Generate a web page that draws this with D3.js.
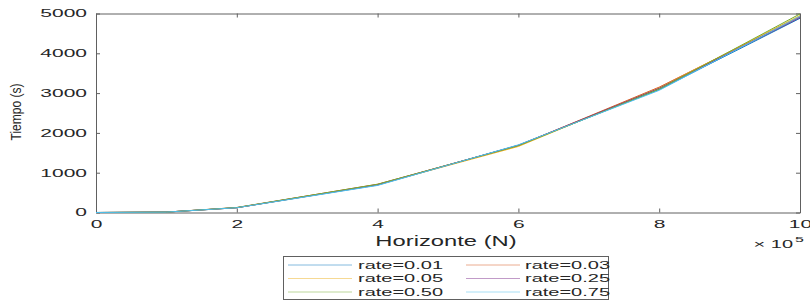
<!DOCTYPE html>
<html>
<head>
<meta charset="utf-8">
<script src="https://cdn.jsdelivr.net/npm/d3@7"></script>
<style>
  body { margin: 0; background: #fff; }
  text { font-family: "Liberation Sans", Arial, sans-serif; fill: #262626; }
</style>
</head>
<body>
<div id="chart"></div>
<script>
//chart data
const horizonte = [0, 100000, 200000, 400000, 600000, 800000, 1000000];
const rates = ["rate=0.01", "rate=0.03", "rate=0.05", "rate=0.25", "rate=0.50", "rate=0.75"];
const rate001 = [0, 10, 120, 690, 1690, 3090, 4880];
const rate003 = [0, 10, 125, 710, 1680, 3150, 4920];
const rate005 = [0, 10, 120, 700, 1660, 3130, 4950];
const rate025 = [0, 10, 120, 700, 1690, 3120, 4900];
const rate050 = [0, 10, 125, 710, 1680, 3100, 4990];
const rate075 = [0, 10, 120, 680, 1700, 3070, 4930];
const xTicks = [0, 200000, 400000, 600000, 800000, 1000000];
const yTicks = [0, 1000, 2000, 3000, 4000, 5000];
const colors = ["#0072BD", "#D95319", "#EDB120", "#7E2F8E", "#77AC30", "#4DBEEE"];

const w = 810;
const h = 301;
const plotLeft = 96, plotRight = 800, plotTop = 13.5, plotBottom = 212.5;
const sx = 2; //the picture is stretched sideways, so the text is too

const svg = d3.select("#chart").
append("svg").
attr("width", w).
attr("height", h);

const xScale = d3.scaleLinear().domain([0, 1000000]).range([plotLeft, plotRight]);
const yScale = d3.scaleLinear().domain([0, 5000]).range([plotBottom, plotTop]);

//axes, ticks point inside the box
const xAxis = svg.append("g").
attr("transform", "translate(0," + plotBottom + ")").
call(d3.axisBottom(xScale).tickValues(xTicks).tickFormat(d => d / 100000).tickSizeInner(-4).tickSizeOuter(0).tickPadding(8));
xAxis.selectAll("text").
attr("font-size", 10.5).
attr("transform", "scale(" + sx + ",1)");

const yAxis = svg.append("g").
attr("transform", "translate(" + plotLeft + ",0)").
call(d3.axisLeft(yScale).tickValues(yTicks).tickFormat(d3.format("d")).tickSizeInner(-4).tickSizeOuter(0));
yAxis.selectAll("text").
attr("font-size", 10.5).
attr("x", -9 / sx).
attr("transform", "scale(" + sx + ",1)");

//top and right sides of the box with their ticks
svg.append("g").
attr("transform", "translate(0," + plotTop + ")").
call(d3.axisTop(xScale).tickValues(xTicks).tickFormat("").tickSizeInner(-4).tickSizeOuter(0));
svg.append("g").
attr("transform", "translate(" + plotRight + ",0)").
call(d3.axisRight(yScale).tickValues(yTicks).tickFormat("").tickSizeInner(-4).tickSizeOuter(0));

svg.selectAll(".domain, .tick line").
attr("stroke", "#606060");

//the lines
const series = [rate001, rate003, rate005, rate025, rate050, rate075];
const line = d3.line().
x((d, i) => xScale(horizonte[i])).
y(d => yScale(d));

svg.selectAll(".serie").
data(series).
enter().
append("path").
attr("class", "serie").
attr("fill", "none").
attr("stroke", (d, i) => colors[i]).
attr("stroke-width", 1).
attr("d", line);

//labels
svg.append("text").
attr("font-size", 14.5).
attr("text-anchor", "middle").
attr("transform", "translate(446,245.5) scale(1.64,1)").
text("Horizonte (N)");

//y label is squeezed along its length
svg.append("text").
attr("font-size", 15).
attr("text-anchor", "middle").
attr("transform", "translate(21,112) rotate(-90) scale(0.8,1)").
text("Tiempo (s)");

svg.append("text").
attr("font-size", 10).
attr("text-anchor", "end").
attr("transform", "translate(793,248) scale(" + sx + ",1)").
text("\u00d7 10");
svg.append("text").
attr("font-size", 8).
attr("transform", "translate(795,242) scale(" + sx + ",1)").
text("5");

//legend, two columns
const legend = svg.append("g");
legend.append("rect").
attr("x", 283.5).
attr("y", 256.5).
attr("width", 325).
attr("height", 43).
attr("fill", "#fff").
attr("stroke", "#606060");

const lx = [[288, 352], [466, 520]];
const tx = [358, 525];
const rowY = [265, 278.5, 292];

const item = legend.selectAll(".item").
data(rates).
enter().
append("g").
attr("class", "item");

item.append("line").
attr("x1", (d, i) => lx[i % 2][0]).
attr("x2", (d, i) => lx[i % 2][1]).
attr("y1", (d, i) => rowY[Math.floor(i / 2)]).
attr("y2", (d, i) => rowY[Math.floor(i / 2)]).
attr("stroke", (d, i) => colors[i]).
attr("stroke-width", 0.8).
attr("opacity", 0.6);

item.append("text").
attr("font-size", 10).
attr("transform", (d, i) => "translate(" + tx[i % 2] + "," + (rowY[Math.floor(i / 2)] + 3.6) + ") scale(" + sx + ",1)").
text(d => d);
</script>
</body>
</html>
